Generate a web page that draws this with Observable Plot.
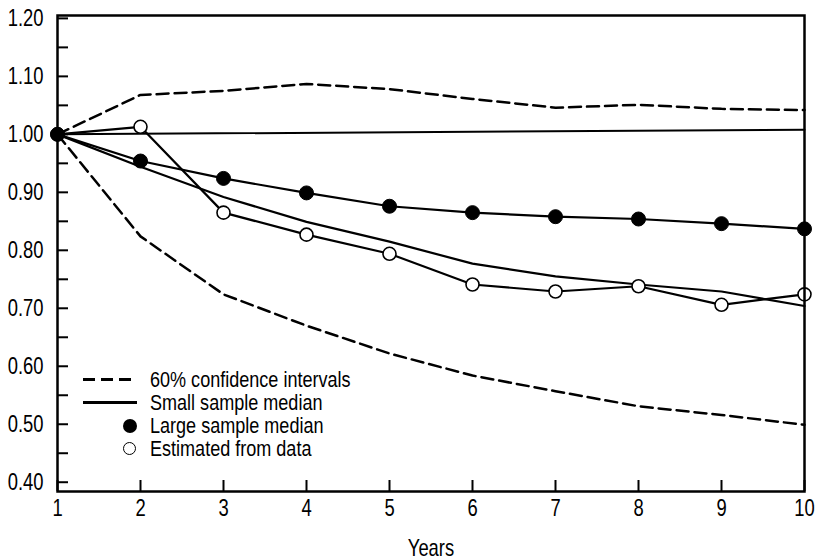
<!DOCTYPE html>
<html>
<head>
<meta charset="utf-8">
<script src="https://cdn.jsdelivr.net/npm/d3@7"></script>
<script src="https://cdn.jsdelivr.net/npm/@observablehq/plot@0.6"></script>
<style>
  html, body { margin: 0; padding: 0; background: #fff; }
  #wrap { position: relative; width: 816px; height: 560px; font-family: "Liberation Sans", Arial, Helvetica, sans-serif; }
  #legend { position: absolute; left: 83px; top: 368px; font-size: 22px; color: #000; }
  .row { display: flex; align-items: center; height: 23px; }
  .sym { position: relative; width: 67px; height: 23px; flex: none; }
  .dash { position: absolute; left: 0; top: 10px; width: 54px; height: 2.5px;
          background: repeating-linear-gradient(to right, #000 0 12px, transparent 12px 18px); }
  .solid { position: absolute; left: 0; top: 10px; width: 54px; height: 2.5px; background: #000; }
  .fdot { position: absolute; left: 40px; top: 4.5px; width: 14px; height: 14px; border-radius: 50%; background: #000; }
  .odot { position: absolute; left: 40px; top: 4.5px; width: 11px; height: 11px; border-radius: 50%; background: #fff; border: 1.6px solid #000; }
  .row span { white-space: nowrap; line-height: 23px; display: inline-block; transform: scaleX(0.82); transform-origin: left center; }
</style>
</head>
<body>
<div id="wrap"></div>
<script>
const years = [1, 2, 3, 4, 5, 6, 7, 8, 9, 10];
const upperCI = [1.00, 1.068, 1.075, 1.087, 1.078, 1.061, 1.046, 1.051, 1.044, 1.042];
const lowerCI = [1.00, 0.824, 0.724, 0.670, 0.622, 0.584, 0.557, 0.531, 0.516, 0.499];
const smallMedian = [1.00, 0.944, 0.892, 0.849, 0.815, 0.777, 0.755, 0.741, 0.729, 0.704];
const largeMedian = [1.00, 0.954, 0.924, 0.899, 0.876, 0.865, 0.858, 0.854, 0.846, 0.837];
const estimated = [1.00, 1.013, 0.865, 0.827, 0.794, 0.741, 0.729, 0.738, 0.706, 0.724];
const refYears = [1, 10];
const refValues = [1.00, 1.008];
const yTickLabels = [0.40, 0.50, 0.60, 0.70, 0.80, 0.90, 1.00, 1.10, 1.20];
const yMinorTicks = [0.45, 0.55, 0.65, 0.75, 0.85, 0.95, 1.05, 1.15];
const xTicks = [1, 2, 3, 4, 5, 6, 7, 8, 9, 10];
const legendLabels = ["60% confidence intervals", "Small sample median", "Large sample median", "Estimated from data"];
const legendSymbols = ["dash", "solid", "fdot", "odot"];

const series = (vals) => years.map((x, i) => ({x, y: vals[i]}));
const ref = refYears.map((x, i) => ({x, y: refValues[i]}));

const font = '"Liberation Sans", Arial, Helvetica, sans-serif';
const fmtY = d3.format(".2f");

const chart = Plot.plot({
  width: 816,
  height: 560,
  marginLeft: 57,
  marginRight: 12,
  marginTop: 15,
  marginBottom: 69,
  style: { fontFamily: font, fontSize: "23px", color: "#000", background: "#fff" },
  x: { domain: [1, 10] },
  y: { domain: [0.384, 1.205] },
  marks: [
    Plot.line(ref, {x: "x", y: "y", strokeWidth: 2}),
    Plot.line(series(upperCI), {x: "x", y: "y", strokeWidth: 2.5, strokeDasharray: "12 6"}),
    Plot.line(series(lowerCI), {x: "x", y: "y", strokeWidth: 2.5, strokeDasharray: "12 6"}),
    Plot.line(series(smallMedian), {x: "x", y: "y", strokeWidth: 2.2}),
    Plot.line(series(estimated), {x: "x", y: "y", strokeWidth: 2.2}),
    Plot.line(series(largeMedian), {x: "x", y: "y", strokeWidth: 2.2}),
    Plot.dot(series(estimated), {x: "x", y: "y", r: 6.5, fill: "#fff", stroke: "#000", strokeWidth: 1.6}),
    Plot.dot(series(largeMedian), {x: "x", y: "y", r: 7, fill: "#000", stroke: "#000", strokeWidth: 1}),
    Plot.frame({stroke: "#000", strokeWidth: 2.5}),
    Plot.axisY({ticks: yTickLabels, tickSize: -11, tickPadding: 25, tickFormat: fmtY, label: null, stroke: "#000", strokeWidth: 2}),
    Plot.axisY({ticks: yMinorTicks, tickSize: -11, tickFormat: () => "", label: null, stroke: "#000", strokeWidth: 2}),
    Plot.axisX({ticks: xTicks, tickSize: -11, tickPadding: 19, tickFormat: d3.format("d"), label: "Years", labelAnchor: "center", labelOffset: 64, labelArrow: "none", stroke: "#000", strokeWidth: 2})
  ]
});

// condensed lettering, like the narrow typeface of the original
chart.querySelectorAll("text").forEach(t => {
  const tr = t.getAttribute("transform") || "";
  t.setAttribute("transform", (tr + " scale(0.8,1)").trim());
});

const wrap = document.getElementById("wrap");
wrap.appendChild(chart);

const legend = document.createElement("div");
legend.id = "legend";
legend.innerHTML = legendLabels.map((t, i) =>
  `<div class="row"><div class="sym"><div class="${legendSymbols[i]}"></div></div><span>${t}</span></div>`
).join("");
wrap.appendChild(legend);
</script>
</body>
</html>
